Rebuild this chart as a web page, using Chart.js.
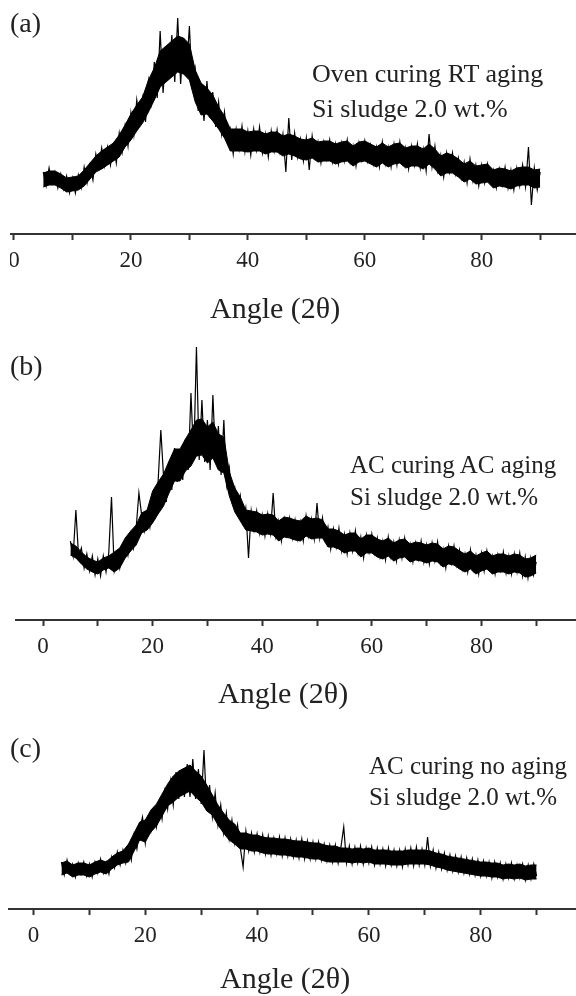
<!DOCTYPE html>
<html>
<head>
<meta charset="utf-8">
<script src="https://cdn.jsdelivr.net/npm/chart.js@4.4.1/dist/chart.umd.min.js"></script>
<style>
  body { margin: 0; background: #fff; }
  #page { position: relative; width: 576px; height: 996px; overflow: hidden;
          font-family: "Liberation Serif", "DejaVu Serif", serif; color: #222; }
  canvas { position: absolute; }
  .tag { position: absolute; left: 10px; font-size: 28px; line-height: 28px; }
  .note { position: absolute; white-space: nowrap; }
  .axtitle { position: absolute; font-size: 30px; line-height: 30px; white-space: nowrap; }
</style>
</head>
<body>
<div id="page">
  <canvas id="chartA" width="566" height="330" style="left:10px;top:0px;width:566px;height:330px"></canvas>
  <canvas id="chartB" width="561" height="375" style="left:15px;top:340px;width:561px;height:375px"></canvas>
  <canvas id="chartC" width="568" height="276" style="left:8px;top:720px;width:568px;height:276px"></canvas>

  <div class="tag" style="top:9px">(a)</div>
  <div class="tag" style="top:352px">(b)</div>
  <div class="tag" style="top:734px">(c)</div>

  <div class="note" style="left:312px;top:56px;font-size:26px;line-height:35px">Oven curing RT aging<br>Si sludge 2.0 wt.%</div>
  <div class="note" style="left:350px;top:449px;font-size:25px;line-height:32px">AC curing AC aging<br>Si sludge 2.0 wt.%</div>
  <div class="note" style="left:369px;top:750px;font-size:25px;line-height:31px">AC curing no aging<br>Si sludge 2.0 wt.%</div>

  <div class="axtitle" style="left:210px;top:293px">Angle (2θ)</div>
  <div class="axtitle" style="left:218px;top:678px">Angle (2θ)</div>
  <div class="axtitle" style="left:220px;top:963px">Angle (2θ)</div>
</div>
<script>
// 2θ sampling of the noisy trace (deg)
const angles = [
  5, 5.5, 6, 6.5, 7, 7.5, 8, 8.5, 9, 9.5,
  10, 10.5, 11, 11.5, 12, 12.5, 13, 13.5, 14, 14.5,
  15, 15.5, 16, 16.5, 17, 17.5, 18, 18.5, 19, 19.5,
  20, 20.5, 21, 21.5, 22, 22.5, 23, 23.5, 24, 24.5,
  25, 25.5, 26, 26.5, 27, 27.5, 28, 28.5, 29, 29.5,
  30, 30.5, 31, 31.5, 32, 32.5, 33, 33.5, 34, 34.5,
  35, 35.5, 36, 36.5, 37, 37.5, 38, 38.5, 39, 39.5,
  40, 40.5, 41, 41.5, 42, 42.5, 43, 43.5, 44, 44.5,
  45, 45.5, 46, 46.5, 47, 47.5, 48, 48.5, 49, 49.5,
  50, 50.5, 51, 51.5, 52, 52.5, 53, 53.5, 54, 54.5,
  55, 55.5, 56, 56.5, 57, 57.5, 58, 58.5, 59, 59.5,
  60, 60.5, 61, 61.5, 62, 62.5, 63, 63.5, 64, 64.5,
  65, 65.5, 66, 66.5, 67, 67.5, 68, 68.5, 69, 69.5,
  70, 70.5, 71, 71.5, 72, 72.5, 73, 73.5, 74, 74.5,
  75, 75.5, 76, 76.5, 77, 77.5, 78, 78.5, 79, 79.5,
  80, 80.5, 81, 81.5, 82, 82.5, 83, 83.5, 84, 84.5,
  85, 85.5, 86, 86.5, 87, 87.5, 88, 88.5, 89, 89.5, 90
];

// 2θ of the dense noise band (deg)
const bandAngles = [
  5, 6, 7, 8, 9, 10, 11, 12, 13, 14,
  15, 16, 17, 18, 19, 20, 21, 22, 23, 24,
  25, 26, 27, 28, 29, 30, 31, 32, 33, 34,
  35, 36, 37, 38, 39, 40, 41, 42, 43, 44,
  45, 46, 47, 48, 49, 50, 51, 52, 53, 54,
  55, 56, 57, 58, 59, 60, 61, 62, 63, 64,
  65, 66, 67, 68, 69, 70, 71, 72, 73, 74,
  75, 76, 77, 78, 79, 80, 81, 82, 83, 84,
  85, 86, 87, 88, 89, 90
];

// intensity (a.u.) - (a) oven curing, RT aging
const intensityA = [
  62, 48, 66, 51, 62, 46, 60, 45, 58, 41,
  56, 41, 59, 46, 67, 51, 69, 54, 80, 66,
  86, 68, 87, 69, 89, 71, 101, 82, 108, 88,
  121, 99, 134, 111, 136, 112, 153, 131, 172, 136,
  203, 141, 186, 155, 199, 152, 216, 150, 196, 160,
  208, 145, 165, 123, 149, 113, 153, 116, 142, 107,
  132, 100, 122, 92, 105, 80, 105, 85, 108, 82,
  103, 79, 105, 84, 107, 81, 100, 77, 103, 83,
  104, 82, 100, 62, 116, 74, 101, 77, 95, 73,
  96, 64, 98, 77, 92, 71, 92, 75, 94, 72,
  90, 70, 91, 73, 94, 72, 88, 68, 91, 74,
  93, 73, 89, 70, 87, 67, 92, 70, 87, 67,
  90, 69, 92, 71, 86, 65, 88, 69, 90, 66,
  85, 63, 100, 67, 88, 63, 79, 57, 81, 62,
  81, 60, 76, 56, 72, 51, 75, 53, 69, 48,
  69, 51, 70, 52, 64, 46, 65, 49, 67, 46,
  64, 44, 66, 48, 69, 47, 87, 29, 66, 44, 62
];
const bandHighA = [
  61, 63, 63, 60, 56, 57, 58, 64, 71, 78,
  83, 87, 91, 99, 109, 120, 129, 137, 154, 166,
  183, 188, 193, 198, 196, 190, 164, 151, 146, 139,
  127, 118, 105, 105, 105, 102, 103, 103, 100, 102,
  102, 98, 100, 98, 95, 94, 96, 92, 93, 93,
  90, 92, 93, 88, 92, 93, 90, 87, 91, 87,
  90, 91, 86, 88, 88, 85, 90, 85, 78, 81,
  79, 75, 70, 73, 68, 69, 70, 64, 66, 65,
  63, 66, 67, 67, 64, 65
];
const bandLowA = [
  47, 49, 49, 46, 42, 43, 44, 48, 55, 62,
  65, 69, 73, 77, 87, 94, 103, 111, 122, 134,
  147, 152, 157, 162, 160, 154, 132, 119, 120, 113,
  105, 96, 83, 83, 83, 82, 83, 83, 80, 82,
  82, 78, 80, 78, 75, 74, 76, 72, 73, 73,
  70, 72, 73, 68, 72, 73, 70, 67, 71, 67,
  70, 71, 66, 68, 68, 65, 70, 65, 58, 61,
  61, 57, 52, 55, 50, 51, 52, 46, 48, 47,
  45, 48, 49, 49, 46, 47
];

// (b) AC curing, AC aging
const intensityB = [
  79, 64, 110, 63, 72, 52, 66, 49, 64, 45,
  61, 44, 64, 48, 67, 123, 50, 66, 52, 72,
  79, 65, 86, 72, 92, 127, 105, 89, 107, 93,
  122, 105, 138, 190, 143, 118, 156, 130, 172, 138,
  171, 140, 181, 150, 227, 160, 273, 160, 220, 158,
  200, 150, 225, 158, 194, 145, 200, 135, 152, 120,
  132, 108, 124, 98, 112, 62, 109, 90, 109, 87,
  105, 84, 106, 87, 127, 84, 99, 79, 101, 85,
  102, 82, 100, 81, 98, 79, 104, 84, 101, 81,
  117, 82, 102, 80, 93, 71, 91, 73, 92, 69,
  86, 66, 87, 69, 89, 67, 83, 62, 85, 68,
  86, 67, 82, 63, 79, 60, 83, 63, 78, 59,
  80, 62, 82, 63, 76, 58, 77, 61, 79, 58,
  75, 56, 77, 59, 78, 57, 71, 52, 74, 57,
  74, 55, 70, 51, 66, 48, 70, 50, 65, 46,
  67, 49, 69, 51, 64, 46, 65, 50, 68, 47,
  64, 46, 66, 48, 67, 44, 63, 42, 62, 45, 58
];
const bandHighB = [
  77, 74, 68, 63, 60, 58, 62, 64, 68, 72,
  82, 89, 95, 107, 110, 129, 138, 146, 159, 171,
  171, 181, 190, 200, 201, 193, 198, 186, 183, 148,
  132, 123, 110, 109, 108, 105, 106, 105, 99, 103,
  102, 100, 99, 104, 101, 102, 100, 91, 91, 89,
  85, 87, 87, 81, 85, 85, 81, 79, 82, 77,
  80, 81, 76, 78, 77, 75, 77, 76, 71, 74,
  73, 69, 66, 69, 64, 67, 69, 64, 66, 66,
  64, 66, 65, 61, 62, 65
];
const bandLowB = [
  65, 62, 56, 51, 48, 46, 50, 52, 48, 52,
  62, 69, 75, 87, 90, 97, 106, 114, 127, 139,
  139, 149, 154, 164, 165, 157, 162, 150, 147, 124,
  108, 99, 90, 89, 88, 85, 86, 85, 79, 83,
  82, 80, 79, 84, 81, 82, 82, 73, 73, 71,
  67, 69, 69, 63, 67, 67, 63, 61, 64, 59,
  62, 63, 58, 60, 59, 57, 59, 58, 53, 56,
  55, 51, 48, 51, 46, 49, 51, 46, 48, 48,
  46, 48, 47, 43, 44, 47
];

// (c) AC curing, no aging
const intensityC = [
  47, 34, 49, 36, 45, 32, 46, 35, 47, 33,
  45, 32, 47, 36, 50, 36, 47, 35, 52, 41,
  57, 44, 59, 46, 63, 49, 74, 60, 80, 92,
  66, 90, 78, 98, 82, 107, 90, 118, 100, 128,
  104, 137, 110, 140, 112, 145, 112, 150, 110, 140,
  105, 159, 98, 124, 92, 116, 84, 104, 76, 96,
  70, 89, 66, 84, 61, 42, 78, 58, 76, 57,
  75, 57, 74, 55, 73, 54, 71, 55, 72, 53,
  71, 53, 70, 52, 69, 51, 70, 50, 68, 50,
  67, 50, 67, 49, 65, 48, 64, 47, 64, 46,
  62, 82, 46, 63, 45, 62, 46, 63, 45, 61,
  46, 62, 44, 61, 45, 60, 43, 61, 44, 59,
  43, 59, 42, 60, 44, 61, 43, 62, 44, 60,
  44, 72, 43, 59, 41, 57, 40, 56, 39, 54,
  38, 53, 37, 52, 36, 51, 35, 50, 34, 49,
  33, 48, 33, 47, 31, 47, 32, 46, 30, 45,
  31, 46, 30, 44, 31, 45, 29, 44, 30, 45, 33
];
const bandHighC = [
  46, 48, 44, 46, 46, 44, 47, 49, 47, 52,
  56, 58, 65, 76, 87, 89, 99, 105, 115, 125,
  133, 138, 141, 144, 138, 133, 124, 114, 104, 96,
  89, 85, 76, 76, 74, 74, 72, 71, 71, 70,
  70, 69, 68, 68, 67, 66, 66, 64, 63, 63,
  61, 61, 60, 61, 60, 61, 59, 59, 59, 58,
  58, 58, 59, 59, 59, 59, 58, 56, 55, 53,
  52, 51, 50, 49, 48, 47, 47, 46, 46, 44,
  45, 44, 45, 43, 44, 44
];
const bandLowC = [
  34, 36, 32, 34, 34, 32, 35, 37, 35, 40,
  44, 46, 47, 58, 69, 67, 77, 83, 93, 103,
  107, 112, 115, 118, 112, 107, 98, 94, 84, 76,
  69, 65, 60, 60, 58, 58, 56, 55, 55, 54,
  54, 53, 52, 52, 51, 50, 50, 48, 47, 47,
  47, 47, 46, 47, 46, 47, 45, 45, 45, 44,
  44, 44, 45, 45, 45, 45, 44, 42, 41, 39,
  38, 37, 36, 35, 34, 33, 33, 32, 32, 30,
  31, 30, 31, 29, 30, 30
];

const tickValues = [0, 10, 20, 30, 40, 50, 60, 70, 80, 90];
const tickLabels = [0, 20, 40, 60, 80];

const serif = '"Liberation Serif", "DejaVu Serif", serif';
const pts = (xs, ys) => xs.map((x, i) => ({ x: x, y: ys[i] }));

function makePanel(id, trace, high, low, xMin, xMax, yMax, axisHeight) {
  const ctx = document.getElementById(id).getContext("2d");
  return new Chart(ctx, {
    type: "line",
    data: {
      datasets: [
        { data: pts(bandAngles, high), borderColor: "#000", borderWidth: 1,
          backgroundColor: "#000", fill: "+1", pointRadius: 0, tension: 0 },
        { data: pts(bandAngles, low), borderColor: "#000", borderWidth: 1,
          fill: false, pointRadius: 0, tension: 0 },
        { data: pts(angles, trace), borderColor: "#000", borderWidth: 1.2,
          fill: false, pointRadius: 0, tension: 0 },
      ],
    },
    options: {
      responsive: false,
      animation: false,
      devicePixelRatio: 1,
      layout: { padding: 0 },
      plugins: { legend: { display: false }, tooltip: { enabled: false } },
      scales: {
        x: {
          type: "linear",
          min: xMin,
          max: xMax,
          offset: false,
          afterBuildTicks: (s) => { s.ticks = tickValues.map((v) => ({ value: v })); },
          afterFit: (s) => { s.height = axisHeight; s.paddingLeft = 0; s.paddingRight = 0; },
          border: { display: true, color: "#333", width: 2 },
          grid: { drawOnChartArea: false, drawTicks: true, tickLength: 6, tickWidth: 2, tickColor: "#333" },
          ticks: {
            autoSkip: false,
            maxRotation: 0,
            padding: 9,
            color: "#222",
            font: { family: serif, size: 23, lineHeight: 1 },
            callback: (v) => (tickLabels.includes(v) ? String(v) : ""),
          },
        },
        y: { display: false, min: 0, max: yMax },
      },
    },
  });
}

makePanel("chartA", intensityA, bandHighA, bandLowA, -0.684, 96.13, 234, 96);
makePanel("chartB", intensityB, bandHighB, bandLowB, -5.11, 97.26, 280, 95);
makePanel("chartC", intensityC, bandHighC, bandLowC, -4.56, 97.05, 189, 87);
</script>
</body>
</html>
